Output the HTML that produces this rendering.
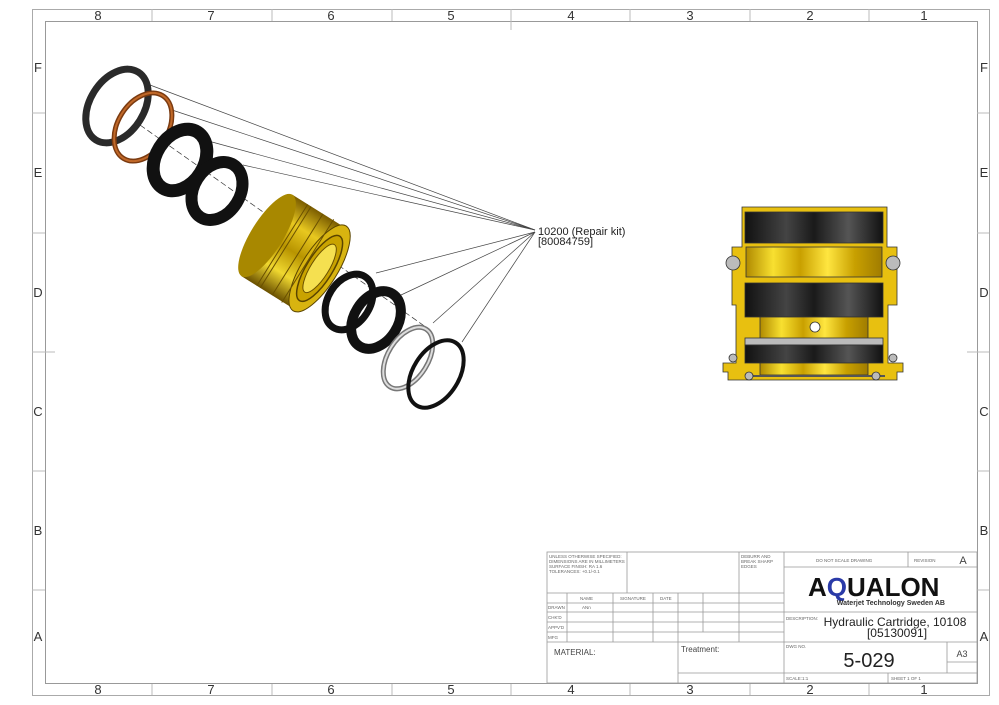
<!DOCTYPE html>
<html><head><meta charset="utf-8"><style>
html,body{margin:0;padding:0;background:#fff;}
svg{display:block;font-family:"Liberation Sans",sans-serif;}
</style></head><body>
<svg width="999" height="705" viewBox="0 0 999 705" xmlns="http://www.w3.org/2000/svg">
<defs>
<linearGradient id="gold" x1="0" y1="0" x2="0" y2="1">
<stop offset="0" stop-color="#7a5c00"/><stop offset="0.25" stop-color="#e8c820"/><stop offset="0.5" stop-color="#b89400"/><stop offset="0.75" stop-color="#f0d830"/><stop offset="1" stop-color="#6a5000"/>
</linearGradient>
<linearGradient id="goldv" x1="0" y1="0" x2="1" y2="0">
<stop offset="0" stop-color="#b08a00"/><stop offset="0.2" stop-color="#f8e030"/><stop offset="0.4" stop-color="#c9a000"/><stop offset="0.6" stop-color="#ffe640"/><stop offset="0.8" stop-color="#c8a000"/><stop offset="1" stop-color="#a07c00"/>
</linearGradient>
<linearGradient id="blk" x1="0" y1="0" x2="1" y2="0">
<stop offset="0" stop-color="#111"/><stop offset="0.3" stop-color="#444"/><stop offset="0.5" stop-color="#1a1a1a"/><stop offset="0.75" stop-color="#555"/><stop offset="1" stop-color="#111"/>
</linearGradient>
</defs>
<!-- frames -->
<rect x="32.5" y="9.5" width="957" height="686" fill="none" stroke="#aaa" stroke-width="1"/>
<rect x="45.5" y="21.5" width="932" height="662" fill="none" stroke="#999" stroke-width="1"/>
<g stroke="#bbb" stroke-width="1">
<line x1="152" y1="9" x2="152" y2="21"/><line x1="272" y1="9" x2="272" y2="21"/><line x1="392" y1="9" x2="392" y2="21"/><line x1="511" y1="9" x2="511" y2="30"/><line x1="630" y1="9" x2="630" y2="21"/><line x1="750" y1="9" x2="750" y2="21"/><line x1="869" y1="9" x2="869" y2="21"/>
<line x1="152" y1="684" x2="152" y2="695"/><line x1="272" y1="684" x2="272" y2="695"/><line x1="392" y1="684" x2="392" y2="695"/><line x1="511" y1="684" x2="511" y2="695"/><line x1="630" y1="684" x2="630" y2="695"/><line x1="750" y1="684" x2="750" y2="695"/><line x1="869" y1="684" x2="869" y2="695"/>
<line x1="32" y1="113" x2="45" y2="113"/><line x1="32" y1="233" x2="45" y2="233"/><line x1="32" y1="352" x2="55" y2="352"/><line x1="32" y1="471" x2="45" y2="471"/><line x1="32" y1="590" x2="45" y2="590"/>
<line x1="977" y1="113" x2="989" y2="113"/><line x1="977" y1="233" x2="989" y2="233"/><line x1="967" y1="352" x2="989" y2="352"/><line x1="977" y1="471" x2="989" y2="471"/><line x1="977" y1="590" x2="989" y2="590"/>
</g>
<g font-size="13" fill="#333" text-anchor="middle">
<text x="98" y="20">8</text><text x="211" y="20">7</text><text x="331" y="20">6</text><text x="451" y="20">5</text><text x="571" y="20">4</text><text x="690" y="20">3</text><text x="810" y="20">2</text><text x="924" y="20">1</text>
<text x="98" y="694">8</text><text x="211" y="694">7</text><text x="331" y="694">6</text><text x="451" y="694">5</text><text x="571" y="694">4</text><text x="690" y="694">3</text><text x="810" y="694">2</text><text x="924" y="694">1</text>
<text x="38" y="72">F</text><text x="38" y="177">E</text><text x="38" y="297">D</text><text x="38" y="416">C</text><text x="38" y="535">B</text><text x="38" y="641">A</text>
<text x="984" y="72">F</text><text x="984" y="177">E</text><text x="984" y="297">D</text><text x="984" y="416">C</text><text x="984" y="535">B</text><text x="984" y="641">A</text>
</g>

<!-- leader lines -->
<g stroke="#444" stroke-width="0.7">
<line x1="535" y1="230" x2="150" y2="85"/><line x1="535" y1="230" x2="172" y2="110"/><line x1="535" y1="230" x2="212" y2="142"/><line x1="535" y1="230" x2="243" y2="165"/>
<line x1="535" y1="232" x2="376" y2="273"/><line x1="535" y1="232" x2="401" y2="295"/><line x1="535" y1="232" x2="433" y2="323"/><line x1="535" y1="232" x2="462" y2="342"/>
</g>
<line x1="140" y1="125" x2="430" y2="330" stroke="#333" stroke-width="0.7" stroke-dasharray="6,3"/>
<text x="538" y="235" font-size="11" fill="#222">10200 (Repair kit)</text>
<text x="538" y="245" font-size="11" fill="#222">[80084759]</text>

<!-- exploded rings -->
<ellipse cx="117" cy="106" rx="27" ry="40" transform="rotate(32 117 106)" fill="none" stroke="#2a2a2a" stroke-width="7"/>
<ellipse cx="143" cy="127" rx="25" ry="37" transform="rotate(32 143 127)" fill="none" stroke="#7a3a10" stroke-width="5"/>
<ellipse cx="143" cy="127" rx="25" ry="37" transform="rotate(32 143 127)" fill="none" stroke="#c06828" stroke-width="2"/>
<ellipse cx="180" cy="160" rx="24" ry="33" transform="rotate(32 180 160)" fill="none" stroke="#111" stroke-width="13"/>
<ellipse cx="217" cy="191" rx="23" ry="31" transform="rotate(32 217 191)" fill="none" stroke="#111" stroke-width="12"/>
<!-- gold body -->
<g transform="rotate(32 295 253)">
<rect x="262" y="205" width="62" height="96" fill="url(#gold)"/>
<ellipse cx="262" cy="253" rx="16" ry="48" fill="#a88800"/>
<path d="M262 205 h10 v96 h-10" fill="none"/>
<ellipse cx="324" cy="253" rx="18" ry="50" fill="#d8b410" stroke="#5a4400" stroke-width="1"/>
<ellipse cx="324" cy="253" rx="13" ry="38" fill="#c9a300" stroke="#5a4400" stroke-width="1.5"/>
<ellipse cx="324" cy="253" rx="9" ry="28" fill="#f5e050" stroke="#6a5000" stroke-width="1"/>
<line x1="280" y1="205" x2="280" y2="301" stroke="#6a5000" stroke-width="1"/>
<line x1="284" y1="205" x2="284" y2="301" stroke="#6a5000" stroke-width="1"/>
<line x1="298" y1="205" x2="298" y2="301" stroke="#6a5000" stroke-width="1"/>
<line x1="310" y1="204" x2="310" y2="302" stroke="#6a5000" stroke-width="1"/>
</g>
<ellipse cx="349" cy="302" rx="21" ry="30" transform="rotate(32 349 302)" fill="none" stroke="#111" stroke-width="7"/>
<ellipse cx="376" cy="320" rx="22" ry="31" transform="rotate(32 376 320)" fill="none" stroke="#111" stroke-width="10"/>
<ellipse cx="408" cy="358" rx="20" ry="34" transform="rotate(32 408 358)" fill="none" stroke="#777" stroke-width="5"/>
<ellipse cx="408" cy="358" rx="20" ry="34" transform="rotate(32 408 358)" fill="none" stroke="#ddd" stroke-width="2"/>
<ellipse cx="436" cy="374" rx="23" ry="37" transform="rotate(32 436 374)" fill="none" stroke="#111" stroke-width="4"/>

<!-- section view -->
<g stroke="#333" stroke-width="0.8">
<polygon points="742,207 887,207 887,247 897,247 897,305 888,305 888,363 903,363 903,372 897,372 897,380 728,380 728,372 723,372 723,363 736,363 736,305 732,305 732,247 742,247" fill="#e8c010"/>
<rect x="745" y="212" width="138" height="31" fill="url(#blk)"/>
<rect x="746" y="247" width="136" height="30" fill="url(#goldv)"/>
<rect x="745" y="283" width="138" height="34" fill="url(#blk)"/>
<rect x="760" y="317" width="108" height="22" fill="url(#goldv)"/>
<rect x="745" y="338" width="138" height="7" fill="#bbb"/>
<rect x="745" y="345" width="138" height="18" fill="url(#blk)"/>
<rect x="760" y="363" width="108" height="12" fill="url(#goldv)"/>
<line x1="745" y1="376" x2="885" y2="376" stroke="#555" stroke-width="2"/>
<circle cx="815" cy="327" r="5" fill="#fff"/>
<circle cx="733" cy="263" r="7" fill="#bbb"/>
<circle cx="893" cy="263" r="7" fill="#bbb"/>
<circle cx="733" cy="358" r="4" fill="#bbb"/>
<circle cx="893" cy="358" r="4" fill="#bbb"/>
<circle cx="749" cy="376" r="4" fill="#bbb"/>
<circle cx="876" cy="376" r="4" fill="#bbb"/>
</g>

<!-- title block -->
<g stroke="#999" stroke-width="0.8" fill="none">
<rect x="547" y="552" width="430" height="131"/>
<line x1="547" y1="593" x2="784" y2="593"/>
<line x1="547" y1="603" x2="784" y2="603"/>
<line x1="547" y1="612" x2="784" y2="612"/>
<line x1="547" y1="622" x2="784" y2="622"/>
<line x1="547" y1="632" x2="784" y2="632"/>
<line x1="547" y1="642" x2="977" y2="642"/>
<line x1="627" y1="552" x2="627" y2="593"/>
<line x1="739" y1="552" x2="739" y2="642"/>
<line x1="567" y1="593" x2="567" y2="642"/>
<line x1="613" y1="593" x2="613" y2="642"/>
<line x1="653" y1="593" x2="653" y2="642"/>
<line x1="678" y1="593" x2="678" y2="683"/>
<line x1="703" y1="593" x2="703" y2="632"/>
<line x1="784" y1="552" x2="784" y2="683"/>
<line x1="678" y1="673" x2="977" y2="673"/>
<line x1="784" y1="567" x2="977" y2="567"/>
<line x1="784" y1="612" x2="977" y2="612"/>
<line x1="908" y1="552" x2="908" y2="567"/>
<line x1="947" y1="642" x2="947" y2="673"/>
<line x1="947" y1="662" x2="977" y2="662"/>
<line x1="888" y1="673" x2="888" y2="683"/>
</g>
<g fill="#666" font-size="4.5">
<text x="549" y="558">UNLESS OTHERWISE SPECIFIED:</text>
<text x="549" y="563">DIMENSIONS ARE IN MILLIMETERS</text>
<text x="549" y="568">SURFACE FINISH: RA 1.6</text>
<text x="549" y="573">TOLERANCES: +0.1/-0.1</text>
<text x="741" y="558">DEBURR AND</text>
<text x="741" y="563">BREAK SHARP</text>
<text x="741" y="568">EDGES</text>
<text x="580" y="600">NAME</text><text x="620" y="600">SIGNATURE</text><text x="660" y="600">DATE</text>
<text x="548" y="609">DRAWN</text><text x="582" y="609">ANn</text>
<text x="548" y="619">CHK'D</text><text x="548" y="629">APPV'D</text><text x="548" y="639">MFG</text>
<text x="816" y="562">DO NOT SCALE DRAWING</text>
<text x="914" y="562">REVISION</text>
<text x="786" y="620">DESCRIPTION:</text>
<text x="786" y="648">DWG NO.</text>
<text x="786" y="680">SCALE:1:1</text>
<text x="891" y="680">SHEET 1 OF 1</text>
</g>
<text x="554" y="655" font-size="8" fill="#444">MATERIAL:</text>
<text x="681" y="652" font-size="8" fill="#444">Treatment:</text>
<text x="963" y="564" font-size="11" fill="#444" text-anchor="middle">A</text>
<text x="962" y="657" font-size="9" fill="#444" text-anchor="middle">A3</text>
<text x="869" y="667" font-size="20" fill="#222" text-anchor="middle">5-029</text>
<text x="895" y="626" font-size="12" fill="#222" text-anchor="middle">Hydraulic Cartridge, 10108</text>
<text x="897" y="637" font-size="12" fill="#222" text-anchor="middle">[05130091]</text>
<text x="808" y="596" font-size="26" font-weight="bold" fill="#111">A<tspan fill="#2a3aa8">Q</tspan>UALON</text>
<text x="945" y="605" font-size="7" font-weight="bold" fill="#333" text-anchor="end">Waterjet Technology Sweden AB</text>
</svg>
</body></html>
